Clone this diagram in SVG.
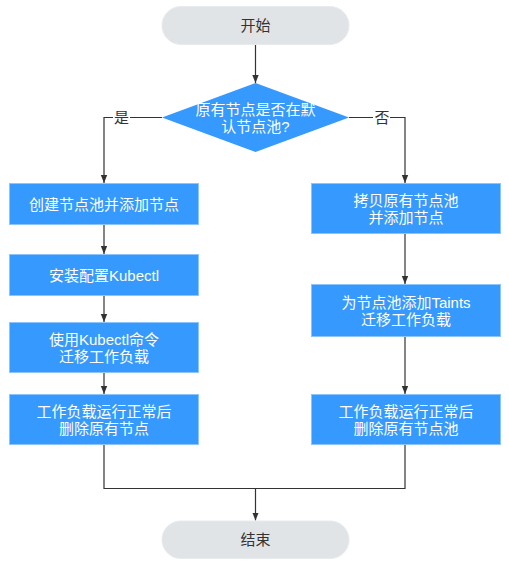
<svg xmlns="http://www.w3.org/2000/svg" width="509" height="567" viewBox="0 0 509 567">
<defs>
<style>
.term{fill:#e1e4e7;stroke:#e8ebee;stroke-width:1}
.proc{fill:#3599fe;stroke:#8cc4fb;stroke-width:1}
.dec{fill:#3599fe}
.t{font-family:"Liberation Sans","Noto Sans CJK SC",sans-serif;font-size:15px;text-anchor:middle;dominant-baseline:central}
.w{fill:#ffffff}
.d{fill:#333333}
.ln{fill:none;stroke:#333333;stroke-width:1.2}
</style>
<marker id="ah" viewBox="0 0 8 8" refX="8" refY="4" markerWidth="8" markerHeight="8" markerUnits="userSpaceOnUse" orient="auto">
<path d="M0,0.8 L8,4 L0,7.2 Z" fill="#333333"/>
</marker>
</defs>
<g id="connectors">
<path class="ln" d="M255.5,44 V83" marker-end="url(#ah)"/>
<path class="ln" d="M162,117.5 H104 V183" marker-end="url(#ah)"/>
<path class="ln" d="M349,117.5 H405 V183" marker-end="url(#ah)"/>
<path class="ln" d="M104,224.5 V254" marker-end="url(#ah)"/>
<path class="ln" d="M104,295.5 V322" marker-end="url(#ah)"/>
<path class="ln" d="M104,372.5 V394" marker-end="url(#ah)"/>
<path class="ln" d="M405,233.5 V284" marker-end="url(#ah)"/>
<path class="ln" d="M405,336.5 V394" marker-end="url(#ah)"/>
<path class="ln" d="M104,444.5 V488.5 H405 V444.5"/>
<path class="ln" d="M255.5,488.5 V520.5" marker-end="url(#ah)"/>
<rect x="113" y="109" width="17" height="17" fill="#ffffff"/>
<rect x="373" y="109" width="17" height="17" fill="#ffffff"/>
<text class="t d" x="121.5" y="117">是</text>
<text class="t d" x="382" y="117">否</text>
</g>
<g id="start">
<rect class="term" x="162" y="6.5" width="187" height="38" rx="19"/>
<text class="t d" x="255.5" y="25.5">开始</text>
</g>
<g id="decision">
<polygon class="dec" points="255.5,83 349,117.5 255.5,152 162,117.5"/>
<text class="t w" x="255.5" y="109.5">原有节点是否在默</text>
<text class="t w" x="255.5" y="126.5">认节点池?</text>
</g>
<g id="l1">
<rect class="proc" x="9.5" y="183.5" width="189" height="41"/>
<text class="t w" x="104" y="204">创建节点池并添加节点</text>
</g>
<g id="l2">
<rect class="proc" x="9.5" y="254.5" width="189" height="41"/>
<text class="t w" x="104" y="275">安装配置Kubectl</text>
</g>
<g id="l3">
<rect class="proc" x="9.5" y="322.5" width="189" height="50"/>
<text class="t w" x="104" y="339">使用Kubectl命令</text>
<text class="t w" x="104" y="356">迁移工作负载</text>
</g>
<g id="l4">
<rect class="proc" x="9.5" y="394.5" width="189" height="50"/>
<text class="t w" x="104" y="411.5">工作负载运行正常后</text>
<text class="t w" x="104" y="428.5">删除原有节点</text>
</g>
<g id="r1">
<rect class="proc" x="311.5" y="183.5" width="189" height="50"/>
<text class="t w" x="406" y="200">拷贝原有节点池</text>
<text class="t w" x="406" y="217">并添加节点</text>
</g>
<g id="r2">
<rect class="proc" x="311.5" y="284.5" width="189" height="52"/>
<text class="t w" x="406" y="302">为节点池添加Taints</text>
<text class="t w" x="406" y="319">迁移工作负载</text>
</g>
<g id="r3">
<rect class="proc" x="311.5" y="394.5" width="189" height="50"/>
<text class="t w" x="406" y="411.5">工作负载运行正常后</text>
<text class="t w" x="406" y="428.5">删除原有节点池</text>
</g>
<g id="end">
<rect class="term" x="162" y="521" width="187" height="37.5" rx="18.75"/>
<text class="t d" x="255.5" y="539.5">结束</text>
</g>
</svg>
